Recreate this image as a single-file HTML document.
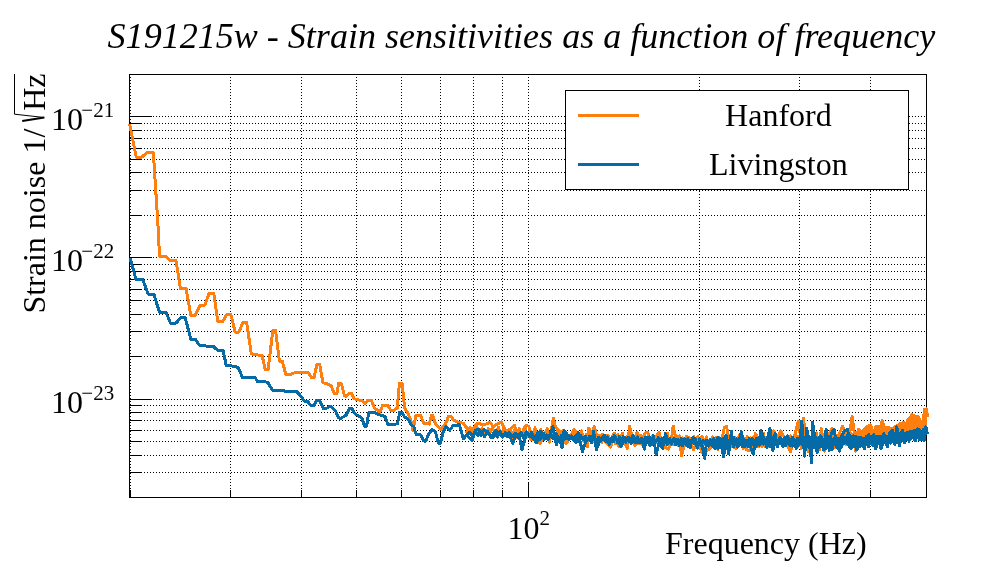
<!DOCTYPE html>
<html lang="en"><head><meta charset="utf-8"><title>S191215w - Strain sensitivities as a function of frequency</title>
<style>html,body{margin:0;padding:0;background:#fff;}body{width:996px;height:572px;overflow:hidden;}svg{display:block;will-change:transform;}text{font-family:"Liberation Serif","Times New Roman",serif;fill:#000;}</style></head><body>
<svg width="996" height="572" viewBox="0 0 996 572">
<rect width="996" height="572" fill="#fff"/>
<g stroke="#000" stroke-width="1" stroke-dasharray="1 2" shape-rendering="crispEdges" fill="none">
<line x1="130.5" y1="498" x2="130.5" y2="75"/>
<line x1="230.5" y1="498" x2="230.5" y2="75"/>
<line x1="301.5" y1="498" x2="301.5" y2="75"/>
<line x1="356.5" y1="498" x2="356.5" y2="75"/>
<line x1="401.5" y1="498" x2="401.5" y2="75"/>
<line x1="440.5" y1="498" x2="440.5" y2="75"/>
<line x1="473.5" y1="498" x2="473.5" y2="75"/>
<line x1="502.5" y1="498" x2="502.5" y2="75"/>
<line x1="528.5" y1="498" x2="528.5" y2="75"/>
<line x1="699.5" y1="498" x2="699.5" y2="75"/>
<line x1="799.5" y1="498" x2="799.5" y2="75"/>
<line x1="870.5" y1="498" x2="870.5" y2="75"/>
<line x1="129" y1="116.5" x2="926" y2="116.5"/>
<line x1="129" y1="257.5" x2="926" y2="257.5"/>
<line x1="129" y1="215.5" x2="926" y2="215.5"/>
<line x1="129" y1="190.5" x2="926" y2="190.5"/>
<line x1="129" y1="172.5" x2="926" y2="172.5"/>
<line x1="129" y1="159.5" x2="926" y2="159.5"/>
<line x1="129" y1="148.5" x2="926" y2="148.5"/>
<line x1="129" y1="138.5" x2="926" y2="138.5"/>
<line x1="129" y1="130.5" x2="926" y2="130.5"/>
<line x1="129" y1="123.5" x2="926" y2="123.5"/>
<line x1="129" y1="399.5" x2="926" y2="399.5"/>
<line x1="129" y1="356.5" x2="926" y2="356.5"/>
<line x1="129" y1="331.5" x2="926" y2="331.5"/>
<line x1="129" y1="314.5" x2="926" y2="314.5"/>
<line x1="129" y1="300.5" x2="926" y2="300.5"/>
<line x1="129" y1="289.5" x2="926" y2="289.5"/>
<line x1="129" y1="279.5" x2="926" y2="279.5"/>
<line x1="129" y1="271.5" x2="926" y2="271.5"/>
<line x1="129" y1="264.5" x2="926" y2="264.5"/>
<line x1="129" y1="472.5" x2="926" y2="472.5"/>
<line x1="129" y1="455.5" x2="926" y2="455.5"/>
<line x1="129" y1="441.5" x2="926" y2="441.5"/>
<line x1="129" y1="430.5" x2="926" y2="430.5"/>
<line x1="129" y1="420.5" x2="926" y2="420.5"/>
<line x1="129" y1="412.5" x2="926" y2="412.5"/>
<line x1="129" y1="405.5" x2="926" y2="405.5"/>
</g>
<g stroke="#000" stroke-width="1" shape-rendering="crispEdges" fill="none">
<rect x="129.5" y="74.5" width="797" height="423"/>
<line x1="129" y1="116.5" x2="152" y2="116.5"/>
<line x1="129" y1="257.5" x2="152" y2="257.5"/>
<line x1="129" y1="215.5" x2="142" y2="215.5"/>
<line x1="129" y1="190.5" x2="142" y2="190.5"/>
<line x1="129" y1="172.5" x2="142" y2="172.5"/>
<line x1="129" y1="159.5" x2="142" y2="159.5"/>
<line x1="129" y1="148.5" x2="142" y2="148.5"/>
<line x1="129" y1="138.5" x2="142" y2="138.5"/>
<line x1="129" y1="130.5" x2="142" y2="130.5"/>
<line x1="129" y1="123.5" x2="142" y2="123.5"/>
<line x1="129" y1="399.5" x2="152" y2="399.5"/>
<line x1="129" y1="356.5" x2="142" y2="356.5"/>
<line x1="129" y1="331.5" x2="142" y2="331.5"/>
<line x1="129" y1="314.5" x2="142" y2="314.5"/>
<line x1="129" y1="300.5" x2="142" y2="300.5"/>
<line x1="129" y1="289.5" x2="142" y2="289.5"/>
<line x1="129" y1="279.5" x2="142" y2="279.5"/>
<line x1="129" y1="271.5" x2="142" y2="271.5"/>
<line x1="129" y1="264.5" x2="142" y2="264.5"/>
<line x1="129" y1="472.5" x2="142" y2="472.5"/>
<line x1="129" y1="455.5" x2="142" y2="455.5"/>
<line x1="129" y1="441.5" x2="142" y2="441.5"/>
<line x1="129" y1="430.5" x2="142" y2="430.5"/>
<line x1="129" y1="420.5" x2="142" y2="420.5"/>
<line x1="129" y1="412.5" x2="142" y2="412.5"/>
<line x1="129" y1="405.5" x2="142" y2="405.5"/>
<line x1="130.5" y1="498" x2="130.5" y2="490"/>
<line x1="230.5" y1="498" x2="230.5" y2="490"/>
<line x1="301.5" y1="498" x2="301.5" y2="490"/>
<line x1="356.5" y1="498" x2="356.5" y2="490"/>
<line x1="401.5" y1="498" x2="401.5" y2="490"/>
<line x1="440.5" y1="498" x2="440.5" y2="490"/>
<line x1="473.5" y1="498" x2="473.5" y2="490"/>
<line x1="502.5" y1="498" x2="502.5" y2="490"/>
<line x1="528.5" y1="498" x2="528.5" y2="482"/>
<line x1="699.5" y1="498" x2="699.5" y2="490"/>
<line x1="799.5" y1="498" x2="799.5" y2="490"/>
<line x1="870.5" y1="498" x2="870.5" y2="490"/>
</g>
<g shape-rendering="crispEdges">
<polyline points="129.6,124.1 136.2,157.2 141.6,157.2 147.6,152.2 153.1,152.2 153.8,160.0 158.6,235.0 159.4,256.1 165.8,256.1 170.0,260.3 175.9,260.3 180.5,288.8 186.1,288.8 190.8,315.2 195.1,315.2 199.7,305.8 204.9,305.1 209.1,293.4 213.8,293.4 217.8,321.3 222.9,321.3 226.7,314.5 230.9,314.5 235.1,332.1 238.9,332.1 242.9,322.7 246.7,322.7 251.3,353.9 256.2,354.9 262.1,355.2 265.3,369.9 268.1,369.9 272.8,330.7 275.6,330.7 279.4,361.1 282.2,361.1 286.0,374.9 289.5,374.9 293.7,373.0 302.2,372.0 308.5,372.6 311.3,377.3 314.1,377.3 316.9,364.6 319.7,364.6 323.0,382.9 326.0,383.3 331.0,385.7 334.2,393.4 337.0,393.4 338.5,383.6 341.3,383.6 344.6,396.0 346.9,396.0 349.1,393.2 351.6,393.2 354.0,398.8 361.7,400.6 365.2,403.7 367.8,400.2 371.3,400.2 374.4,408.0 380.0,412.2 382.8,405.1 387.7,405.4 391.2,410.8 394.0,410.8 397.3,407.7 399.4,383.4 402.2,383.4 404.6,408.0 408.1,413.6 412.0,424.1 413.0,430.4 415.8,415.7 420.7,415.7 423.6,423.1 429.2,424.1 431.3,415.7 432.7,415.7 435.5,424.1 441.1,429.7 446.0,422.7 448.6,416.4 451.0,416.4 453.8,420.3 458.0,422.0 463.6,423.4 465.0,425.9 470.6,432.3 476.9,423.8 480.5,423.8 482.6,425.2 490.3,422.4 493.1,426.6 501.5,421.7 505.1,430.8 510.0,430.1 514.2,425.2 516.3,431.5 521.2,435.8 526.8,425.2 529.0,426.6 531.1,440.0 535.3,435.8 540.2,443.5 543.0,437.2 545.8,431.5 549.3,442.1 553.3,418.2 555.7,427.3 559.2,430.8 562.0,437.2 566.2,443.5 570.4,437.2 573.9,429.4 577.5,434.4 584.5,438.6 587.3,447.0 588.7,428.0 591.5,434.4 594.3,426.6 597.1,437.2 602.1,434.4 605.6,442.1 610.5,447.0 614.8,433.7 619.0,447.0 621.8,434.4 627.4,448.4 629.5,426.6 632.3,437.2 635.1,445.6 636.8,432.3 640.8,441.4 645.0,433.0 647.8,432.3 650.6,444.2 659.0,432.3 660.4,444.2 668.2,449.1 671.0,444.2 673.1,425.9 675.9,438.6 679.4,435.8 681.5,455.4 684.3,445.6 690.0,442.8 693.5,449.8 697.7,440.0 701.9,452.6 708.2,449.8 712.5,445.6 720.9,444.2 724.4,427.3 726.5,426.6 729.3,441.4 734.2,437.2 736.4,448.4 735.0,437.2 735.7,448.4 739.2,435.8 743.4,440.0 746.2,449.8 750.5,450.5 755.4,433.7 758.2,438.6 763.8,433.7 765.2,446.3 768.7,447.0 773.7,430.8 777.2,438.6 780.7,430.8 784.2,437.2 790.5,451.9 794.7,435.8 798.3,421.0 800.4,435.8 803.6,418.2 805.3,437.2 808.1,451.2 813.7,437.2 816.5,433.0 819.3,449.8 821.4,428.7 824.3,451.2 827.8,437.2 832.0,428.7 834.8,447.7 839.0,434.4 842.5,426.6 846.0,434.4 850.3,430.1 852.1,416.1 854.5,434.4 855.9,451.2 858.7,429.4 862.9,433.0 862.1,432.2 866.3,426.9 870.5,424.8 873.7,434.3 875.8,426.4 880.6,426.9 882.3,420.6 884.0,426.9 888.5,427.4 891.6,429.0 895.8,426.4 900.1,423.7 903.7,422.7 905.3,429.0 907.4,420.6 912.2,414.8 914.8,416.4 918.0,416.4 920.6,421.6 923.3,420.6 924.5,409.5 926.4,408.8 927.5,417.4" fill="none" stroke="#ff7f0e" stroke-width="3" stroke-linejoin="round" stroke-linecap="butt"/>
<polyline points="466.0,432.9 469.8,427.6 472.9,432.2 476.1,424.9 478.7,431.9 481.9,428.9 485.7,433.5 488.0,428.9 490.1,432.2 492.1,427.6 495.6,433.1 498.4,427.1 500.9,434.6 504.3,427.7 506.6,434.8 509.8,429.2 512.4,437.0 514.4,429.9 517.0,437.7 519.1,428.7 521.4,434.9 524.9,426.5 527.2,436.4 530.3,431.2 532.9,436.1 535.0,427.8 537.5,436.4 540.8,429.6 544.0,436.9 547.2,428.7 550.5,437.3 553.5,432.2 555.4,437.2 557.5,431.5 560.0,440.6 562.6,430.9 564.6,440.8 566.7,433.6 569.8,438.6 572.8,432.6 574.7,438.4 576.7,432.5 579.6,440.8 581.6,430.7 583.6,441.0 586.1,434.8 588.1,439.3 590.4,435.9 592.5,441.7 594.7,433.2 597.2,442.5 599.0,435.7 601.9,442.8 603.5,434.6 606.1,441.5 607.8,435.1 610.6,443.2 613.3,433.9 615.7,443.9 617.9,434.5 620.2,443.1 622.5,433.3 624.8,444.5 627.3,436.2 629.6,442.7 631.2,432.8 633.5,442.9 635.9,436.1 638.5,443.6 640.4,435.5 642.1,444.8 644.1,434.9 646.4,442.3 648.8,434.9 650.7,443.9 652.3,436.5 654.8,444.5 656.5,437.9 658.3,442.7 660.4,436.8 662.8,445.7 664.3,438.6 665.8,444.8 667.5,433.6 669.0,445.6 671.4,438.1 672.8,444.7 674.9,436.6 677.3,445.1 679.2,437.3 681.1,445.3 682.7,438.0 684.6,445.0 686.4,436.4 687.8,446.3 689.2,437.8 691.6,444.4 693.8,436.6 695.6,445.5 697.7,436.7 699.7,444.0 702.0,436.1 704.1,444.4 706.3,436.9 708.0,445.2 709.8,439.6 711.1,446.2 712.6,436.8 714.0,445.1 716.1,437.1 717.8,449.3 719.2,437.7 721.2,445.5 723.2,437.6 724.8,446.3 726.1,436.4 727.8,445.2 729.5,437.7 730.7,446.7 732.3,436.6 733.9,447.8 735.6,438.0 737.6,444.1 738.8,437.9 740.8,444.8 742.1,437.2 743.4,448.3 744.7,438.7 746.1,444.4 747.3,436.7 748.9,444.0 750.5,437.8 752.0,445.0 753.3,437.0 754.9,446.3 756.8,438.5 758.6,446.5 760.0,435.8 762.0,446.5 763.3,436.5 764.5,446.2 766.3,438.8 768.0,443.1 769.7,435.7 770.8,445.0 772.4,436.6 773.5,444.5 775.0,437.2 776.2,443.7 778.0,435.3 779.2,443.2 780.6,436.2 782.1,445.0 783.7,439.2 785.5,443.7 787.2,437.5 788.4,447.0 790.2,435.9 792.0,445.5 793.5,437.1 795.2,444.0 796.9,435.9 798.3,446.6 799.9,435.9 801.2,448.3 802.6,435.1 803.9,445.5 805.1,435.0 806.4,445.5 807.8,437.2 809.3,445.6 811.2,438.6 812.8,443.7 813.8,437.8 814.9,443.6 816.3,436.4 817.8,446.7 819.4,438.1 821.0,442.5 822.2,436.3 823.5,447.2 825.3,436.4 826.7,443.8 828.2,435.7 829.8,445.0 830.9,437.9 832.5,443.7 834.1,437.7 835.8,442.3 837.1,435.8 838.2,444.2 839.7,435.7 841.3,446.8 842.8,435.7 843.7,444.1 845.0,434.7 846.1,444.2 847.7,435.2 849.4,444.8 850.4,433.4 851.8,443.0 853.2,434.5 854.6,444.4 855.7,432.4 857.3,442.0 858.4,434.5 859.4,445.2 860.4,433.1 861.8,441.9 862.0,433.7 863.3,442.2 864.7,430.7 866.0,442.2 867.0,427.9 868.2,440.2 869.2,426.6 870.5,441.5 871.4,429.1 872.3,440.2 873.3,435.2 874.4,440.6 875.6,428.2 876.9,441.1 877.9,427.9 878.9,439.7 880.1,427.6 881.1,440.5 882.3,421.8 883.5,440.6 884.5,428.7 885.4,439.2 886.6,428.0 887.5,438.6 888.8,429.5 889.9,439.1 891.2,429.7 892.5,437.8 893.9,428.5 895.1,438.2 896.4,427.5 897.5,437.4 898.5,426.4 899.4,439.0 900.6,424.8 901.8,437.7 902.9,423.8 903.8,438.2 904.8,428.7 906.0,436.5 907.1,422.7 908.2,438.0 909.5,420.0 910.6,436.7 911.7,416.7 912.8,437.4 914.0,417.3 914.9,436.8 916.3,417.6 917.6,436.3 918.8,419.3 919.9,436.2 921.1,422.6 922.3,434.4 923.5,419.7 924.6,435.4 925.9,410.2" fill="none" stroke="#ff7f0e" stroke-width="3" stroke-linejoin="round" stroke-linecap="butt"/>
<polyline points="130.1,258.2 136.0,279.3 142.6,279.3 148.2,294.0 153.8,294.0 159.4,312.0 165.8,312.0 170.5,323.0 176.1,323.0 181.0,317.6 185.2,317.6 190.8,339.1 195.1,339.1 199.7,345.4 207.0,346.1 213.3,346.4 217.6,350.4 223.2,350.8 226.2,365.3 231.9,366.0 238.2,367.4 242.4,377.3 255.1,377.3 257.2,381.2 267.7,382.2 272.4,390.2 282.5,390.2 285.3,391.3 296.5,391.3 300.7,395.9 304.3,401.1 307.8,401.8 310.9,405.4 314.1,405.4 316.5,400.4 319.7,400.4 323.2,408.2 326.8,408.2 329.6,406.1 332.4,407.8 335.9,411.7 338.7,418.0 341.5,418.0 346.2,415.0 349.8,408.2 351.9,408.2 354.7,413.6 361.7,417.8 364.5,426.2 366.6,426.2 368.7,412.9 375.1,412.9 380.0,415.0 384.9,416.4 388.1,424.8 394.0,424.8 397.6,423.4 399.7,412.2 401.8,412.2 404.6,417.1 408.1,419.2 411.6,425.5 413.7,426.2 416.2,434.9 420.7,434.9 423.6,441.0 425.7,441.0 428.5,434.7 432.0,429.7 435.5,431.8 438.3,443.1 440.4,443.1 443.2,431.8 446.0,426.2 449.6,430.4 453.1,425.5 459.4,424.8 461.5,431.8 463.2,438.9 466.4,435.4 468.5,437.2 472.0,440.7 475.5,430.1 479.1,429.4 481.2,435.8 484.0,429.4 488.2,433.0 493.1,437.2 495.9,430.1 500.1,435.1 505.1,435.1 508.6,433.0 512.8,443.5 516.3,433.7 519.1,435.8 521.9,449.8 524.7,440.0 526.8,433.7 531.8,437.2 536.7,442.8 540.2,431.5 543.0,433.0 547.9,439.3 552.9,426.6 556.4,444.9 559.2,437.2 562.0,447.7 564.1,430.1 566.2,438.6 569.7,435.8 573.2,440.0 576.0,442.8 578.2,432.3 582.4,451.9 585.9,441.4 589.4,437.9 591.5,442.8 593.6,431.5 596.4,449.8 599.9,440.0 604.2,435.1 609.1,444.2 614.1,435.8 617.6,440.0 621.1,447.0 624.6,437.2 628.8,441.4 633.0,435.8 637.3,442.8 641.5,438.6 644.3,449.1 647.1,437.2 649.9,445.6 653.4,435.8 656.2,454.7 659.0,442.8 662.6,448.4 665.4,433.7 668.9,442.8 674.5,440.0 680.1,441.4 685.7,444.2 690.0,447.7 692.8,437.2 697.0,447.0 701.2,441.4 704.7,458.3 706.8,440.0 711.0,444.2 715.3,448.4 718.1,437.2 720.9,442.8 723.7,456.8 725.8,435.8 728.6,454.0 731.4,431.5 733.5,447.0 735.0,442.8 737.8,447.0 741.3,431.5 744.8,447.0 748.4,441.4 753.3,454.0 756.1,438.6 758.9,442.8 761.0,430.8 764.5,440.0 766.6,442.8 769.9,428.0 773.0,450.5 775.1,433.0 777.2,447.0 780.0,437.2 784.2,441.4 787.7,435.8 789.8,445.6 792.6,437.2 796.1,448.4 799.7,441.4 801.8,421.0 804.6,456.1 806.7,428.0 809.5,444.2 811.6,462.5 812.6,422.4 815.8,444.2 817.2,452.6 820.7,435.8 823.6,449.8 826.1,429.4 829.2,450.5 831.3,433.0 834.1,429.4 836.2,442.8 839.7,451.2 841.8,435.8 843.9,431.5 847.5,429.4 851.0,449.1 854.5,437.2 856.6,449.8 862.1,440.6 864.2,449.0 866.3,436.4 868.4,446.9 870.5,436.4 873.7,439.5 875.8,449.0 877.9,436.4 881.1,449.0 884.2,434.3 887.4,446.9 890.0,432.2 892.7,430.1 894.8,444.8 896.9,426.9 899.5,445.9 902.2,430.1 904.3,442.7 906.9,432.2 909.5,439.5 912.7,431.1 914.8,440.6 917.5,429.0 920.1,430.1 922.2,439.5 924.3,440.6 925.9,426.9 927.5,434.3" fill="none" stroke="#056ba6" stroke-width="3" stroke-linejoin="round" stroke-linecap="butt"/>
<polyline points="466.0,436.4 469.7,432.1 472.5,435.7 475.0,431.5 477.8,435.3 481.1,431.7 484.5,436.7 487.8,431.6 490.9,437.4 494.2,432.3 497.4,437.1 500.2,431.7 502.9,437.1 505.1,432.8 507.4,436.7 509.4,433.0 512.7,436.8 515.1,433.1 518.0,437.7 521.2,432.4 523.4,437.7 526.3,432.0 529.7,436.7 531.6,432.5 535.0,438.8 537.7,432.4 540.1,439.4 542.3,434.8 544.4,439.5 546.5,435.0 548.6,438.8 550.8,434.4 553.3,438.6 556.3,433.6 558.7,439.6 561.4,435.4 563.8,440.1 566.3,432.8 569.0,439.3 571.9,435.9 573.8,440.1 575.8,435.4 578.2,442.0 580.4,435.2 583.3,439.7 585.3,436.2 587.0,441.0 589.7,436.2 592.1,440.3 593.8,435.7 596.2,441.6 598.6,437.2 600.7,440.8 602.8,437.1 605.5,441.3 607.5,436.7 609.3,441.0 611.6,438.0 613.3,441.8 616.0,437.8 617.9,443.0 619.5,436.6 621.5,441.1 623.2,436.8 625.6,442.5 628.3,437.1 631.1,443.3 632.6,437.3 635.1,442.4 637.3,437.0 639.5,442.8 641.2,438.8 642.9,442.5 645.1,437.8 647.1,442.5 649.5,436.9 652.0,444.3 653.6,438.4 656.0,442.0 658.3,437.5 660.0,444.3 661.8,438.5 663.9,443.3 665.6,437.9 667.2,444.5 669.7,438.4 671.6,444.1 674.1,438.1 675.5,444.8 677.3,439.2 679.1,445.3 681.2,438.3 682.8,445.9 684.7,438.8 686.2,443.1 687.7,438.5 689.7,445.1 691.5,439.9 693.9,443.9 695.7,439.0 697.3,448.1 699.5,439.0 700.9,445.4 702.9,440.3 705.2,443.7 706.5,440.4 708.5,446.2 710.3,439.8 712.5,445.3 713.9,438.4 715.2,445.8 716.7,440.4 718.0,448.5 720.0,438.3 721.8,445.8 723.1,438.2 724.9,445.0 726.5,435.9 728.0,445.5 730.0,439.9 731.9,443.9 733.6,437.5 735.2,445.0 736.8,438.9 738.9,446.0 740.3,438.6 742.1,446.5 743.3,438.9 744.6,445.1 746.5,440.2 747.9,446.3 749.2,438.7 750.3,445.4 752.1,438.1 753.8,445.6 755.3,440.3 756.6,446.0 758.4,438.0 759.9,445.1 761.4,438.2 763.1,444.1 765.1,440.4 766.9,447.9 768.6,437.8 770.6,446.8 772.5,439.9 774.0,445.4 775.7,438.3 777.6,445.0 779.2,439.0 780.3,443.7 781.7,440.1 783.0,446.9 784.7,437.4 785.8,445.8 787.7,438.8 789.0,444.0 790.6,439.4 792.5,446.1 794.4,439.8 796.0,446.3 797.5,438.2 798.6,445.1 800.3,438.8 801.4,444.1 803.1,437.4 804.7,444.9 806.4,438.5 807.9,446.7 809.7,437.3 811.1,446.4 812.7,436.9 814.1,448.0 815.5,437.2 817.2,445.1 818.9,437.4 819.9,446.8 821.0,436.1 822.6,446.5 824.0,439.2 825.3,448.8 826.5,436.6 827.8,447.1 828.9,436.5 830.0,445.8 831.1,439.3 832.2,449.5 833.6,438.8 834.6,444.7 835.6,438.0 836.9,447.9 838.5,438.4 839.6,443.6 840.6,438.5 841.6,446.5 842.9,437.4 843.9,443.3 844.8,437.4 846.4,443.1 847.6,434.9 849.1,446.9 850.5,435.9 852.1,446.9 853.6,435.8 854.8,447.0 856.0,435.9 857.0,449.5 858.6,437.5 860.1,446.6 861.0,436.9 862.3,443.2 863.6,438.5 864.8,442.8 866.3,438.3 867.4,445.2 868.8,434.3 869.8,443.3 871.3,437.3 872.7,445.6 873.7,434.7 874.7,443.7 875.8,436.0 877.3,443.6 878.7,436.4 880.2,444.3 881.4,436.6 882.8,444.6 883.9,433.6 885.4,443.2 886.9,436.3 888.1,443.8 889.1,435.5 890.5,443.1 891.5,433.6 892.7,441.1 894.0,434.6 895.3,443.3 896.3,434.3 897.5,442.6 898.9,433.4 900.0,441.4 901.3,433.3 902.5,440.3 903.5,434.6 904.8,438.7 905.7,433.2 906.5,440.0 907.8,432.6 909.0,441.2 910.1,431.0 911.4,438.2 912.4,432.7 913.7,437.9 914.5,430.5 915.4,441.0 916.7,429.8 917.5,438.0 918.3,430.3 919.4,439.8 920.3,432.2 921.7,438.4 923.1,429.6 924.5,436.4 925.9,429.2" fill="none" stroke="#056ba6" stroke-width="3" stroke-linejoin="round" stroke-linecap="butt"/>
</g>
<rect x="565.5" y="90.5" width="343" height="99" fill="#fff" stroke="#000" stroke-width="1" shape-rendering="crispEdges"/>
<line x1="578" y1="115.5" x2="639" y2="115.5" stroke="#ff7f0e" stroke-width="3" shape-rendering="crispEdges"/>
<line x1="578" y1="164.5" x2="639" y2="164.5" stroke="#056ba6" stroke-width="3" shape-rendering="crispEdges"/>
<text x="778.4" y="125.8" font-size="32" text-anchor="middle">Hanford</text>
<text x="778.4" y="174.7" font-size="32" text-anchor="middle">Livingston</text>
<text id="title" x="107.6" y="48.1" font-size="35.5" font-style="italic" textLength="827.6" lengthAdjust="spacingAndGlyphs">S191215w - Strain sensitivities as a function of frequency</text>
<text x="50.9" y="129.9" font-size="32">10<tspan font-size="21" dy="-13.3" dx="-1.6">−21</tspan></text>
<text x="50.9" y="270.9" font-size="32">10<tspan font-size="21" dy="-13.3" dx="-1.6">−22</tspan></text>
<text x="50.9" y="412.9" font-size="32">10<tspan font-size="21" dy="-13.3" dx="-1.6">−23</tspan></text>
<text x="507.5" y="539.2" font-size="32">10<tspan font-size="21" dy="-14.6">2</tspan></text>
<text id="xt" x="665" y="554.3" font-size="32">Frequency (Hz)</text>
<text id="yt1" transform="translate(44.5,313.6) rotate(-90)" font-size="32">Strain noise 1/</text>
<text id="yt2" transform="translate(44.5,110.8) rotate(-90)" font-size="32">Hz</text>
<polyline points="22.2,121 44.3,117.5" fill="none" stroke="#000" stroke-width="2"/>
<polyline points="44.3,117.5 14.5,114.2 14.5,74" fill="none" stroke="#000" stroke-width="1"/>
</svg></body></html>
